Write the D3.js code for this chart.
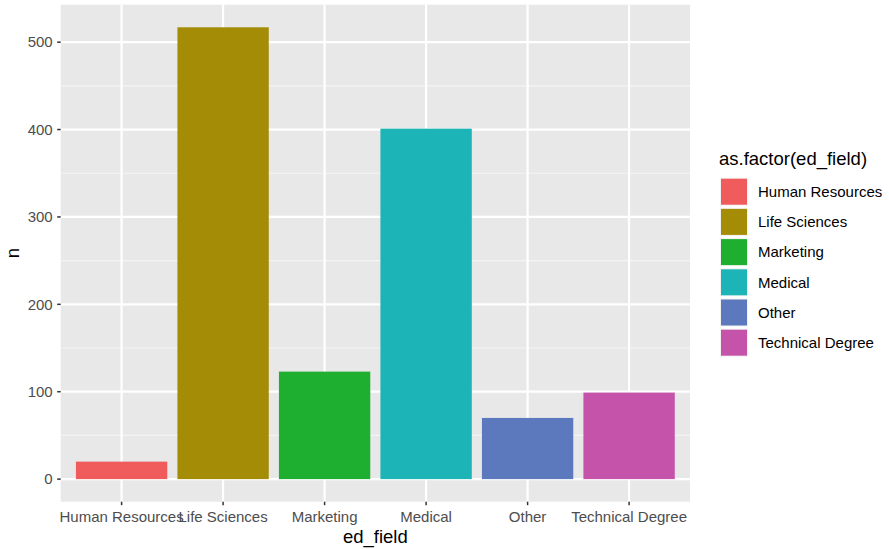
<!DOCTYPE html>
<html><head><meta charset="utf-8">
<script src="https://cdn.jsdelivr.net/npm/d3@7"></script>
<style>body{margin:0;background:#fff}svg{display:block;font-family:"Liberation Sans",Arial,sans-serif}</style>
</head><body><svg id="c" width="889" height="549"></svg>
<script>
const categories = ["Human Resources","Life Sciences","Marketing","Medical","Other","Technical Degree"];
const counts = [20, 517, 123, 401, 70, 99];
const colors = ["#F05B5B","#A58C06","#1EAF30","#1DB4B7","#5C79BD","#C553A9"];
const yTicks = [0,100,200,300,400,500];
const yMinor = [50,150,250,350,450];

const svg = d3.select("#c");
const P = {left:60.7, right:690, top:4.7, bottom:501.7};

const x = d3.scaleBand().domain(categories).range([P.left,P.right]).paddingInner(0.1).paddingOuter(0.6*0.9+0.05);
// use a linear position scale for ggplot-style discrete expansion
const xi = d3.scaleLinear().domain([0.4, categories.length+0.6]).range([P.left,P.right]);
const xc = c => xi(categories.indexOf(c)+1);
const bw = xi(1.45)-xi(1);
const ymax = d3.max(counts);
const y = d3.scaleLinear().domain([-0.05*ymax, ymax*1.05]).range([P.bottom,P.top]);

svg.append("rect").attr("x",P.left).attr("y",P.top).attr("width",P.right-P.left).attr("height",P.bottom-P.top).attr("fill","#E8E8E8");

const g = svg.append("g");
g.selectAll(".ymin").data(yMinor).join("line").attr("x1",P.left).attr("x2",P.right)
 .attr("y1",d=>y(d)).attr("y2",d=>y(d)).attr("stroke","#F4F4F4").attr("stroke-width",1.1);
g.selectAll(".ymaj").data(yTicks).join("line").attr("x1",P.left).attr("x2",P.right)
 .attr("y1",d=>y(d)).attr("y2",d=>y(d)).attr("stroke","#fff").attr("stroke-width",2.2);
g.selectAll(".xmaj").data(categories).join("line").attr("y1",P.top).attr("y2",P.bottom)
 .attr("x1",d=>xc(d)).attr("x2",d=>xc(d)).attr("stroke","#fff").attr("stroke-width",2.2);

svg.append("g").selectAll("rect").data(categories).join("rect")
 .attr("x",d=>xc(d)-bw).attr("width",2*bw)
 .attr("y",(d,i)=>y(counts[i])).attr("height",(d,i)=>y(0)-y(counts[i]))
 .attr("fill",(d,i)=>colors[i]);

// y axis
const ya = svg.append("g");
ya.selectAll("line").data(yTicks).join("line").attr("x1",P.left-3.5).attr("x2",P.left)
 .attr("y1",d=>y(d)).attr("y2",d=>y(d)).attr("stroke","#333").attr("stroke-width",1.5);
ya.selectAll("text").data(yTicks).join("text").attr("x",P.left-8).attr("y",d=>y(d))
 .attr("dy","0.35em").attr("text-anchor","end").attr("font-size",15).attr("fill","#4D4D4D").text(d=>d);

// x axis
const xa = svg.append("g");
xa.selectAll("line").data(categories).join("line").attr("y1",P.bottom).attr("y2",P.bottom+3.5)
 .attr("x1",d=>xc(d)).attr("x2",d=>xc(d)).attr("stroke","#333").attr("stroke-width",1.5);
xa.selectAll("text").data(categories).join("text").attr("x",d=>xc(d)).attr("y",521.5)
 .attr("text-anchor","middle").attr("font-size",15).attr("fill","#4D4D4D").text(d=>d);

svg.append("text").attr("x",(P.left+P.right)/2).attr("y",543).attr("text-anchor","middle")
 .attr("font-size",18.5).attr("fill","#000").text("ed_field");
svg.append("text").attr("transform",`translate(19,${(P.top+P.bottom)/2}) rotate(-90)`)
 .attr("text-anchor","middle").attr("font-size",18.5).attr("fill","#000").text("n");

// legend
const lg = svg.append("g");
lg.append("text").attr("x",719).attr("y",165).attr("font-size",18.5).attr("fill","#000").text("as.factor(ed_field)");
const rows = lg.selectAll("g").data(categories).join("g").attr("transform",(d,i)=>`translate(720,${177.7+i*30.2})`);
rows.append("rect").attr("width",28).attr("height",28).attr("fill","#F2F2F2");
rows.append("rect").attr("x",1).attr("y",1).attr("width",26).attr("height",26).attr("fill",(d,i)=>colors[i]);
rows.append("text").attr("x",38).attr("y",14).attr("dy","0.35em").attr("font-size",15).attr("fill","#000").text(d=>d);
</script></body></html>
